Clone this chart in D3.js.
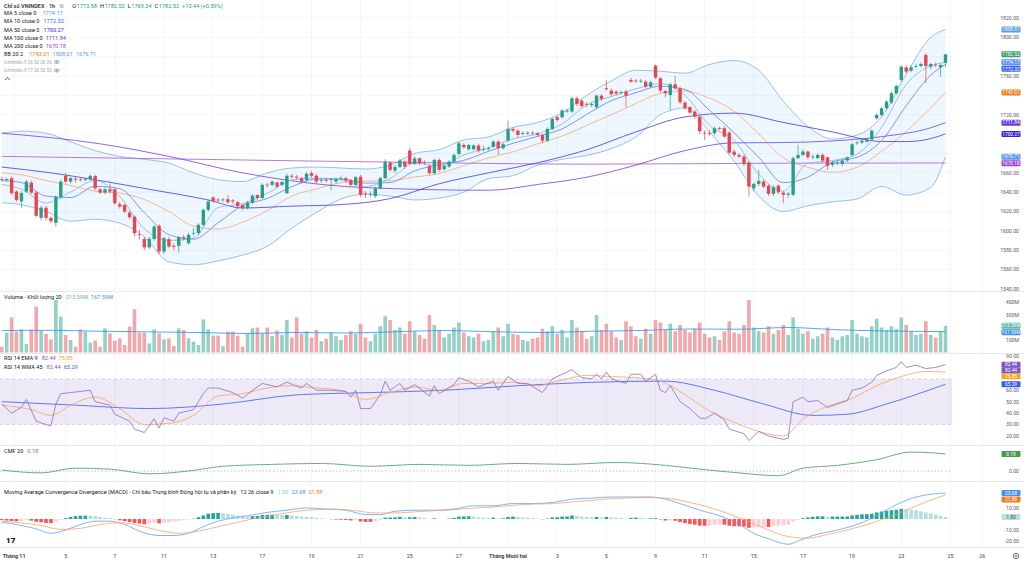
<!DOCTYPE html>
<html>
<head>
<meta charset="utf-8">
<script src="https://cdn.jsdelivr.net/npm/d3@7"></script>
<style>
body { margin: 0; background: #fff; }
svg { display: block; font-family: Roboto, "Liberation Sans", sans-serif; }
</style>
</head>
<body>
<div id="chart"></div>
<script>
// ---- data ----
// hourly candles [open, high, low, close]
const ohlc = [
[1653.5,1656,1651,1653],[1653,1655,1651,1653.5],[1654.5,1657,1637,1639],[1640.7,1642,1630,1632],[1630.5,1641,1624,1639],
[1640.7,1653,1639,1651],[1650,1652,1638,1639.6],[1639.6,1641,1614,1615.6],[1613.5,1626,1611,1624],[1624,1626,1611,1613.5],
[1613.5,1615,1608,1610],[1608.4,1637,1604.5,1635.1],[1635.1,1653,1633,1651],[1656.9,1660,1649,1651],[1651,1656,1649,1654.5],
[1654,1656,1650,1653],[1653.2,1655,1651,1653],[1653,1655,1651,1653.5],[1653.4,1658.5,1652,1656.9],[1656.9,1658,1642,1644],
[1643,1645,1638,1639.6],[1639.6,1645,1638,1643],[1643,1649,1639,1640.7],[1643,1644,1627,1628.5],[1627.6,1630,1623,1625.2],
[1626.9,1628,1618,1620],[1619,1621,1612,1614.2],[1614.8,1616,1594.2,1597.6],[1596.5,1601,1591,1596],[1591.8,1594,1580,1583],
[1583,1594,1581,1591.8],[1591.8,1606,1590,1604.5],[1605.3,1607,1576,1578.7],[1578.7,1594,1576,1592.5],[1591.5,1594,1582,1583.9],
[1584.5,1587,1580,1583.5],[1584.6,1595,1577.4,1593.6],[1593.6,1596,1590,1592.5],[1587.3,1598,1586,1596],[1597.2,1603,1595,1598],
[1597.7,1608,1596,1606.3],[1606.3,1623,1605,1621.8],[1621.8,1632,1620,1630.5],[1634.5,1636,1629,1631],[1632.3,1634,1630,1632],
[1632,1634,1630,1632.5],[1632.8,1637.3,1628,1629.7],[1631.5,1633,1628,1630.5],[1629.7,1631,1624,1625.5],[1627,1628,1621,1623.5],
[1623.5,1631,1622,1629.3],[1629.3,1638,1628,1636.5],[1637,1638,1632,1634],[1634,1649,1633,1647.6],[1647.8,1650,1645,1647.5],
[1647.6,1652,1646,1651],[1650,1651,1644,1645.8],[1647.6,1652,1646,1650.5],[1639,1659,1638,1657],[1657,1659,1654,1656],
[1656,1658,1653,1655],[1654.5,1656,1649,1651],[1652.7,1661,1651,1659],[1659.7,1662,1655,1657],[1657,1659,1649,1651],
[1652.2,1654,1650,1652.7],[1652.7,1655,1650,1652.4],[1653,1655,1642,1653.5],[1651,1655,1649,1653.4],[1654.2,1657,1652,1654.5],
[1654.5,1656,1650,1652],[1652.7,1654,1646,1647.6],[1647.6,1657,1646,1655.5],[1656,1658,1635,1637.3],[1638.6,1641,1634,1638.3],
[1638,1641,1635,1638.4],[1636,1646,1634,1644],[1644,1656,1643,1654.5],[1654.5,1674,1653,1671.6],[1670.6,1672,1661,1663],
[1662.4,1668,1660,1666],[1666,1675,1665,1672.7],[1671.6,1673,1664,1666.5],[1683,1686,1668,1669.3],[1669.3,1677,1668,1675],
[1675,1676,1668,1670],[1670.8,1673,1668,1670.4],[1667,1669,1658,1659.7],[1659.7,1675,1658,1673.4],[1673.4,1675,1661,1663],
[1663.8,1669,1662,1667.2],[1666.5,1673,1665,1671.6],[1671.6,1680,1670,1678.5],[1679.6,1692,1678,1690.6],[1688.9,1691,1685,1686.5],
[1684.4,1690,1683,1688.9],[1684.4,1690,1683,1688.2],[1688.2,1690,1681,1683],[1684,1688,1682,1684.5],[1685,1687,1683,1685.3],
[1687,1694,1686,1692.3],[1692.3,1694,1678.6,1685.5],[1685.5,1691,1684,1689.6],[1693.3,1714,1692,1705.4],[1705.4,1707,1702,1703.6],
[1703.6,1705,1697,1699.2],[1700.6,1703,1699,1701],[1701.2,1703,1699,1701.5],[1701.5,1703,1699,1701],[1701,1702,1697,1699.2],
[1699.2,1700,1690.6,1693.3],[1693.3,1707,1692,1705.4],[1705.4,1717,1704,1715.7],[1717.5,1719,1713,1714.7],[1717.5,1726,1716,1724.3],
[1723.3,1726,1722,1724.3],[1723.3,1739,1722,1737.1],[1737.1,1739,1729,1731.2],[1734.6,1736,1727,1729.1],[1731.2,1733,1728,1730.5],
[1730,1733,1728,1731],[1727.8,1741,1726,1739.8],[1739.8,1741,1734,1736.4],[1747.4,1756,1745,1746.4],[1745,1747,1739,1741.2],
[1744,1745,1740,1742],[1743,1745,1741,1743.3],[1744,1746,1727.8,1739.8],[1756,1758,1753,1754.2],[1755.3,1757,1753,1755],
[1755,1757,1753,1755.2],[1754.2,1756,1747,1749],[1749,1755,1748,1753.6],[1770.8,1772,1757,1758.4],[1757.7,1759,1743,1745],
[1744.6,1746,1738,1742.3],[1740.5,1753,1725,1751.5],[1751.5,1760,1746,1747.4],[1747.4,1749,1731,1733],[1732.6,1734,1725,1726.8],
[1728,1729,1721,1722.2],[1723.3,1725,1716,1718],[1718,1720,1700,1703],[1701.5,1704,1694,1701],[1701.2,1704,1698,1700.8],
[1701,1708,1699,1706.1],[1706.3,1708,1704,1706],[1706.1,1708,1696,1697.5],[1701.6,1703,1679,1680.9],[1682,1684,1676,1678.5],
[1678.5,1680,1675,1676.8],[1676.8,1679,1667,1669.3],[1670.6,1672,1635.5,1645.8],[1644,1650,1641,1648.6],[1648.6,1663,1646,1651.7],
[1651,1653,1644,1645.8],[1646.8,1648,1636,1638.3],[1638.3,1647,1636,1645.2],[1646.8,1648,1638,1640],[1639.6,1641,1628.7,1637.3],
[1637.3,1640,1634,1638.5],[1637.3,1677,1636,1675.2],[1675.2,1689,1674,1678.5],[1678.5,1684,1677,1682],[1682,1683,1674,1676.2],
[1676.6,1679,1674,1676.8],[1675.2,1680,1674,1678.5],[1678.5,1680,1671,1672.7],[1676,1677,1663,1667.2],[1668.2,1672,1666,1670.6],
[1670.4,1673,1668,1670.6],[1669.3,1674,1667,1672.7],[1672.7,1677,1671,1675.8],[1678.5,1691,1677,1689.6],[1691,1693,1689,1691.3],
[1691.3,1695,1690,1693.3],[1692.3,1696,1691,1694.7],[1694.7,1705,1693,1703.6],[1716.4,1722,1715,1719.8],[1719.8,1728,1718,1726.7],
[1726.7,1735,1725,1733.6],[1732.6,1744,1731,1742.3],[1742.3,1751,1741,1749.8],[1756,1771,1754,1769.7],[1769,1771,1763,1764.6],
[1765.6,1771,1764,1769],[1770.2,1773,1768,1770.4],[1770.4,1774,1769,1772.5],[1781.8,1784,1752.6,1770.4],[1769.7,1774,1767,1772.5],
[1771.8,1774,1769,1771.5],[1769,1773,1759.4,1771.5],[1773.6,1782.52,1769.3,1782.52]
];

// volume per candle, millions
const volume = [
46,158,281,167,185,68,185,367,175,148,105,420,287,140,100,46,185,167,79,95,
46,193,153,95,113,60,207,346,158,158,73,185,153,105,113,51,193,180,113,87,
60,265,185,135,135,51,167,167,135,46,153,193,200,150,200,130,175,140,260,120,
280,150,170,120,180,90,110,160,130,100,140,170,150,230,120,90,150,210,290,260,
180,200,150,250,170,140,110,300,220,180,120,150,200,240,160,130,120,150,90,100,
170,200,130,230,150,140,100,90,110,120,190,170,210,150,180,120,260,200,170,110,
130,300,180,230,170,120,100,250,210,130,110,190,150,260,240,180,230,170,220,180,
160,190,240,150,120,130,100,170,250,160,150,220,420,200,170,160,210,150,180,220,
140,280,190,150,170,110,130,150,200,120,100,130,140,260,150,130,120,210,270,200,
180,210,190,280,220,170,140,150,250,140,120,170,213.59
];
const volMa = [[0,175],[10,178],[20,170],[30,165],[40,160],[50,152],[60,160],[70,156],[80,166],[90,176],
[100,166],[110,160],[120,170],[130,176],[140,188],[150,186],[160,200],[170,182],[180,172],[192,167.59]];

// moving averages as [bar, value]
const ma5 = [[0,1648],[4,1643.2],[9,1628.8],[14,1640.2],[19,1652],[24,1635.4],[29,1602.2],[34,1590.2],[39,1592.6],[44,1624.2],
[49,1628.2],[54,1638.8],[59,1652.6],[64,1654.6],[69,1652.8],[74,1646],[79,1654],[84,1670],[89,1667.2],[94,1678.6],
[99,1685.8],[104,1695.2],[109,1700.2],[114,1710.6],[119,1730.2],[124,1738.8],[129,1746.8],[134,1752.2],[139,1740],[144,1709],
[149,1693.6],[154,1658.6],[159,1641.2],[164,1669.8],[169,1672.8],[174,1679.4],[179,1707.2],[184,1751.4],[189,1770.6],[192,1774.17]];
const ma10 = [[0,1652],[4,1650],[9,1636],[14,1634.5],[19,1646.1],[24,1643.7],[29,1618.8],[34,1596.2],[39,1591.4],[44,1608.4],
[49,1626.2],[54,1633.5],[59,1645.7],[64,1653.6],[69,1653.7],[74,1649.4],[79,1650],[84,1662],[89,1668.6],[94,1672.9],
[99,1682.2],[104,1690.5],[109,1697.7],[114,1705.4],[119,1720.4],[124,1734.5],[129,1742.8],[134,1749.5],[139,1746.1],[144,1724.5],
[149,1701.3],[154,1676.1],[159,1649.9],[164,1655.5],[169,1671.3],[174,1676.1],[179,1693.3],[184,1729.3],[189,1761],[192,1772.32]];
const ma50 = [[0,1666],[10,1660],[20,1652],[30,1643],[42,1632],[49,1623.7],[59,1625.6],[69,1627.2],[79,1633.4],[89,1648.8],
[99,1660],[109,1670.4],[119,1683.8],[129,1702.3],[139,1717.8],[149,1721.7],[159,1712.1],[169,1702.3],[179,1692.4],[184,1692.3],
[189,1695.4],[192,1700.27]];
const ma100 = [[0,1701],[20,1690],[34,1677],[49,1660],[73,1645],[99,1642],[109,1648],[119,1655.5],[129,1668],[139,1683],
[149,1691],[159,1691.3],[169,1693],[179,1697.4],[189,1706.6],[192,1711.84]];
const ma200 = [[0,1677],[40,1674],[80,1671],[120,1669],[160,1670],[192,1670.18]];

// Bollinger 20 2: [bar, basis, upper, lower]
const bb = [[0,1660,1701,1629],[4,1658,1703,1627],[9,1652,1701,1620],[14,1647,1692,1610],[19,1641,1683,1612],
[24,1639,1677,1608],[29,1632.5,1674,1594],[34,1620,1670,1568],[39,1605,1660,1565],[44,1602,1653,1569],
[49,1609,1651,1575],[54,1621,1660,1584],[59,1636,1665,1603],[64,1643.5,1666,1619],[69,1649.7,1665,1633],
[74,1651.5,1664,1638],[79,1651.9,1668,1636],[84,1655.7,1680,1632],[89,1659.3,1684,1634],[94,1667.5,1694,1640],
[99,1675.4,1697,1654],[104,1681.7,1707,1657],[109,1690,1712,1668],[114,1698,1722,1674],[119,1709,1740,1678],
[124,1720,1755,1685],[129,1731.6,1766,1697],[134,1742,1765,1720],[139,1744.5,1763,1727],[144,1737,1772,1702],
[149,1723.7,1776,1672],[154,1700.3,1766,1636],[159,1675.6,1734,1620],[164,1665.8,1708,1626],[169,1660.6,1695,1630],
[174,1665.8,1699,1633],[179,1682.3,1718,1646],[184,1702.7,1762,1637],[189,1727.2,1800,1645],[192,1743.01,1808.01,1676.71]];

// RSI 14 and its averages
const rsi = [[0,48],[2,40],[4,45],[5,52],[7,33],[9,30],[10,29],[11,48],[12,57],[14,58],[18,60],[19,50],[22,47],[23,39],
[26,33],[27,26],[29,23],[31,35],[32,27],[33,36],[35,33],[36,40],[39,43],[41,57],[42,62],[44,62],[47,58],[49,53],[51,60],
[53,66],[56,63],[58,67],[61,62],[62,66],[64,60],[67,60],[70,59],[71,54],[72,60],[73,44],[75,44],[77,56],[78,68],[79,60],
[81,66],[82,60],[84,65],[87,55],[88,64],[89,57],[92,65],[93,71],[95,68],[97,63],[100,68],[101,60],[103,72],[105,66],
[107,66],[110,58],[112,70],[114,74],[116,78],[118,71],[120,70],[121,74],[122,70],[123,76],[124,70],[127,66],[128,74],
[130,74],[131,68],[133,74],[134,60],[135,58],[136,64],[138,50],[140,44],[142,36],[143,35],[145,40],[147,34],[148,26],
[151,22],[152,16],[154,24],[156,20],[159,17],[160,18],[161,50],[163,54],[164,50],[166,51],[168,45],[170,48],[172,51],
[173,60],[175,62],[177,67],[178,73],[180,77],[182,80],[183,85],[184,80],[186,82],[188,79],[190,80],[192,82.44]];
const rsiEma = [[0,47],[6,43],[10,38],[14,47],[19,54],[24,44],[29,30],[34,31],[39,38],[44,55],[49,57],[54,62],[59,64],
[64,62],[69,60],[74,52],[79,58],[84,63],[89,60],[94,66],[99,66],[104,67],[109,64],[114,69],[119,73],[124,72],[129,71],
[134,68],[139,56],[144,42],[149,32],[154,24],[159,20],[163,35],[168,46],[173,53],[178,64],[183,72],[188,76.5],[192,75.85]];
const rsiWma = [[0,50],[15,47],[30,44],[45,48],[60,56],[75,58],[90,60],[105,64],[120,67],[135,68],[145,60],[155,48],
[165,38],[172,39],[180,48],[192,65.29]];

const cmf = [[0,0.01],[8,-0.02],[15,0.03],[22,0.02],[30,-0.03],[38,0.0],[45,0.05],[55,0.07],[65,0.08],[75,0.05],[85,0.07],
[95,0.06],[105,0.08],[115,0.07],[125,0.09],[135,0.06],[142,0.02],[150,-0.02],[158,-0.05],[163,0.03],[170,0.06],[178,0.12],
[185,0.2],[190,0.19],[192,0.18]];

// MACD 12 26 9
const macdLine = [[0,-3],[3,-5],[7,-9],[10,-13],[13,-10],[16,-5],[19,-2],[22,-2],[25,-5],[28,-11],[32,-15],[35,-15],[38,-13],
[41,-7],[44,-2],[47,1],[50,3],[54,6],[58,8],[62,10],[66,9],[70,8],[74,4],[77,4],[80,7],[84,8],[88,8],[92,9],[96,12],[100,12],
[104,14],[108,14],[112,15],[116,18],[120,19],[124,20],[128,20],[132,20],[134,19],[138,14],[142,8],[146,3],[150,-5],[153,-13],
[156,-18],[160,-23],[162,-20],[165,-15],[170,-10],[174,-5],[178,3],[182,13],[186,20],[189,22.5],[192,23.68]];
const signalLine = [[0,-2],[4,-3.5],[8,-6],[12,-9.5],[16,-8.5],[20,-5],[24,-3.5],[28,-6],[32,-10.5],[36,-13],[40,-11],[44,-7],
[48,-3],[52,1],[56,4],[60,7],[64,8.5],[68,9],[72,7.5],[76,5.5],[80,5.5],[84,6.5],[88,7.5],[92,8.5],[96,10],[100,11],[104,12.5],
[108,13.5],[112,14],[116,15.5],[120,17],[124,18.5],[128,19.2],[132,19.5],[136,18.5],[140,15],[144,10.5],[148,4.5],[152,-2.5],
[156,-10],[160,-16],[164,-17.5],[168,-14],[172,-10],[176,-5],[180,1],[184,8],[188,15.5],[192,21.88]];
const macdHist = [
-1.0,-1.4,-1.8,-2.0,-1.8,-1.2,-1.5,-2.6,-3.0,-3.6,-3.8,-2.5,-0.8,0.8,1.8,2.6,3.0,3.1,3.0,2.6,
1.8,1.2,0.8,-0.2,-1.2,-2.0,-2.8,-3.8,-4.2,-4.8,-4.2,-3.5,-4.0,-3.2,-2.8,-2.2,-1.6,-1.0,-0.4,0.3,
1.6,3.2,4.8,5.4,5.6,5.2,4.6,4.0,3.2,2.6,2.4,2.6,2.8,3.6,3.8,4.0,3.6,3.4,3.6,3.2,
2.8,2.2,2.0,1.6,1.0,0.6,0.2,-0.2,-0.5,-0.7,-0.9,-1.3,-1.0,-2.2,-2.6,-2.6,-2.0,-0.8,1.2,1.4,
1.5,2.0,1.6,1.6,1.8,1.4,1.0,0.2,0.6,0.1,0.0,0.4,1.0,2.2,2.4,2.5,2.2,1.6,1.2,0.9,
1.2,0.6,0.6,1.8,2.2,1.8,1.5,1.2,0.8,0.4,-0.3,0.4,1.4,1.6,2.2,2.3,3.2,2.8,2.2,1.8,
1.4,1.8,1.4,1.8,1.4,1.1,0.8,0.3,1.0,1.2,1.1,0.6,0.6,0.8,-0.4,-1.4,-1.2,-1.6,-2.8,-3.8,
-4.6,-5.2,-6.0,-6.2,-6.0,-5.4,-5.0,-5.2,-6.2,-6.6,-6.6,-6.8,-8.0,-7.8,-7.4,-7.2,-7.2,-6.6,-6.2,-5.8,
-5.2,-2.4,-0.6,0.8,1.4,2.0,2.4,2.4,2.2,2.2,2.2,2.2,2.3,3.2,3.8,4.2,4.4,4.8,6.0,6.8,
7.4,8.0,8.4,9.2,8.8,8.4,7.8,7.0,6.0,5.0,4.0,2.8,1.8
];

// axes
const dayTicks = [2.5,13,23,33,43,53,63,73,83,93,103,113,123,133,143,153,163,173,183,193,199.5];
const dayLabels = ["Tháng 11","5","7","11","13","17","19","21","25","27","Tháng Mười hai","3","5","9","11","15","17","19","23","25","26"];
const priceTicks = [1540,1560,1580,1600,1620,1640,1660,1680,1700,1720,1740,1760,1780,1800,1820];
const volTicks = [100,200,300,400];
const rsiTicks = [20,30,40,50,60,70,80,90];
const macdTicks = [-20,-10,0,10,20];

// ---- drawing ----
const W = 1024, H = 563, plotR = 952;
const svg = d3.select("#chart").append("svg").attr("width", W).attr("height", H);

const x = d3.scaleLinear().domain([0, 192]).range([1.8, 945.5]);
const yP = d3.scaleLinear().domain([1540, 1820]).range([289, 18]);
const yV = d3.scaleLinear().domain([0, 500]).range([352.5, 290]);
const yR = d3.scaleLinear().domain([20, 90]).range([436, 356]);
const yC = d3.scaleLinear().domain([0, 0.18]).range([471, 454]);
const yM = d3.scaleLinear().domain([-20, 10]).range([541, 508]);

const panes = [[0,291],[291,353],[353,445],[445,481],[481,547]];
const defs = svg.append("defs");
panes.forEach((p, k) => {
    defs.append("clipPath").attr("id", "clip" + k)
        .append("rect").attr("x", 0).attr("y", p[0]).attr("width", plotR).attr("height", p[1] - p[0]);
});

const grid = svg.append("g");
dayTicks.forEach(t => {
    grid.append("line").attr("x1", x(t)).attr("x2", x(t)).attr("y1", 0).attr("y2", 547)
        .attr("stroke", "#f2f4f9").attr("stroke-width", 0.8);
});
priceTicks.forEach(t => {
    grid.append("line").attr("x1", 0).attr("x2", plotR).attr("y1", yP(t)).attr("y2", yP(t))
        .attr("stroke", "#f2f4f9").attr("stroke-width", 0.8);
});

// pane separators
panes.slice(1).forEach(p => {
    svg.append("line").attr("x1", 0).attr("x2", W).attr("y1", p[0] + 0.5).attr("y2", p[0] + 0.5)
        .attr("stroke", "#e6e8ee").attr("stroke-width", 1);
});
svg.append("line").attr("x1", 0).attr("x2", W).attr("y1", 547.5).attr("y2", 547.5).attr("stroke", "#e6e8ee");

function lineOf(yScale, curve) {
    return d3.line().x(d => x(d[0])).y(d => yScale(d[1])).curve(curve || d3.curveMonotoneX);
}

// ---- price pane ----
const gP = svg.append("g").attr("clip-path", "url(#clip0)");
gP.append("path").datum(bb)
    .attr("d", d3.area().x(d => x(d[0])).y0(d => yP(d[3])).y1(d => yP(d[2])).curve(d3.curveMonotoneX))
    .attr("fill", "rgba(33,150,243,0.08)");
gP.append("path").datum(bb.map(d => [d[0], d[2]])).attr("d", lineOf(yP))
    .attr("fill", "none").attr("stroke", "#7fb0e8").attr("stroke-width", 0.8);
gP.append("path").datum(bb.map(d => [d[0], d[3]])).attr("d", lineOf(yP))
    .attr("fill", "none").attr("stroke", "#7fb0e8").attr("stroke-width", 0.8);
gP.append("path").datum(bb.map(d => [d[0], d[1]])).attr("d", lineOf(yP))
    .attr("fill", "none").attr("stroke", "#f2a878").attr("stroke-width", 0.8);

const maLines = [
    [ma200, "#a35bd6"], [ma100, "#7040d8"], [ma50, "#4a35d8"], [ma10, "#5d7ff0"], [ma5, "#7cb4f0"]
];
maLines.forEach(m => {
    gP.append("path").datum(m[0]).attr("d", lineOf(yP))
        .attr("fill", "none").attr("stroke", m[1]).attr("stroke-width", 0.8);
});

const UP = "#2a9d87", DOWN = "#e8464f";
const candles = gP.selectAll(".candle").data(ohlc).join("g").attr("class", "candle");
candles.append("line")
    .attr("x1", (d, i) => x(i)).attr("x2", (d, i) => x(i))
    .attr("y1", d => yP(d[1])).attr("y2", d => yP(d[2]))
    .attr("stroke", d => d[3] >= d[0] ? UP : DOWN).attr("stroke-width", 0.7);
candles.append("rect")
    .attr("x", (d, i) => x(i) - 1.7).attr("width", 3.4)
    .attr("y", d => yP(Math.max(d[0], d[3])))
    .attr("height", d => Math.max(0.8, Math.abs(yP(d[0]) - yP(d[3]))))
    .attr("fill", d => d[3] >= d[0] ? UP : DOWN);

// ---- volume pane ----
const gV = svg.append("g").attr("clip-path", "url(#clip1)");
gV.selectAll("rect").data(volume).join("rect")
    .attr("x", (d, i) => x(i) - 1.8).attr("width", 3.6)
    .attr("y", d => yV(d)).attr("height", d => yV(0) - yV(d))
    .attr("fill", (d, i) => ohlc[i][3] >= ohlc[i][0] ? "#93d1c6" : "#f4a7ab");
gV.append("path").datum(volMa).attr("d", lineOf(yV))
    .attr("fill", "none").attr("stroke", "#2196f3").attr("stroke-width", 0.8);

// ---- RSI pane ----
const gR = svg.append("g").attr("clip-path", "url(#clip2)");
gR.append("rect").attr("x", 0).attr("width", plotR)
    .attr("y", yR(70)).attr("height", yR(30) - yR(70)).attr("fill", "rgba(126,87,194,0.13)");
[70, 30].forEach(v => {
    gR.append("line").attr("x1", 0).attr("x2", plotR).attr("y1", yR(v)).attr("y2", yR(v))
        .attr("stroke", "#b9b3cc").attr("stroke-width", 0.5).attr("stroke-dasharray", "3,3");
});
gR.append("path").datum(rsiWma).attr("d", lineOf(yR)).attr("fill", "none").attr("stroke", "#3d5af1").attr("stroke-width", 0.8);
gR.append("path").datum(rsiEma).attr("d", lineOf(yR)).attr("fill", "none").attr("stroke", "#f5a35c").attr("stroke-width", 0.8);
gR.append("path").datum(rsi).attr("d", lineOf(yR, d3.curveLinear)).attr("fill", "none").attr("stroke", "#8a6cc9").attr("stroke-width", 0.8);

// ---- CMF pane ----
const gC = svg.append("g").attr("clip-path", "url(#clip3)");
gC.append("line").attr("x1", 0).attr("x2", plotR).attr("y1", yC(0)).attr("y2", yC(0))
    .attr("stroke", "#9598a1").attr("stroke-width", 0.6).attr("stroke-dasharray", "1.5,2");
gC.append("path").datum(cmf).attr("d", lineOf(yC)).attr("fill", "none").attr("stroke", "#4a9a4e").attr("stroke-width", 0.8);

// ---- MACD pane ----
const gM = svg.append("g").attr("clip-path", "url(#clip4)");
gM.selectAll("rect").data(macdHist).join("rect")
    .attr("x", (d, i) => x(i) - 1.8).attr("width", 3.6)
    .attr("y", d => yM(Math.max(0, d))).attr("height", d => Math.abs(yM(d) - yM(0)))
    .attr("fill", (d, i) => {
        const prev = i > 0 ? macdHist[i - 1] : d;
        if (d >= 0) return d >= prev ? "#26a69a" : "#b2dfdb";
        return d <= prev ? "#ff5252" : "#ffcdd2";
    });
gM.append("path").datum(macdLine).attr("d", lineOf(yM)).attr("fill", "none").attr("stroke", "#64a0f2").attr("stroke-width", 0.8);
gM.append("path").datum(signalLine).attr("d", lineOf(yM)).attr("fill", "none").attr("stroke", "#f5a56a").attr("stroke-width", 0.8);

// ---- right scale: boxes first, then plain labels where there is room ----
const boxYs = [];
function boxes(list, minGap) {
    list.sort((a, b) => a.y - b.y);
    for (let k = 1; k < list.length; k++) {
        if (list[k].y - list[k - 1].y < minGap) list[k].y = list[k - 1].y + minGap;
    }
    list.forEach(b => {
        boxYs.push(b.y);
        svg.append("rect").attr("x", 1001.5).attr("y", b.y - 3).attr("width", 19).attr("height", 6).attr("rx", 1)
            .attr("fill", b.c);
        svg.append("text").attr("x", 1011).attr("y", b.y).attr("dy", "0.35em").attr("text-anchor", "middle")
            .attr("font-size", 4.8).attr("fill", b.t || "#fff").text(b.s);
    });
}
boxes([
    { y: yP(1808.01), s: "1808.01", c: "#5b9be8" },
    { y: yP(1782.52), s: "1782.52", c: "#3f9a78" },
    { y: yP(1774.17), s: "1774.17", c: "#5b8ff2" },
    { y: yP(1772.32), s: "1772.32", c: "#3563ee" },
    { y: yP(1743.01), s: "1743.01", c: "#f07d22" },
    { y: yP(1711.84), s: "1711.84", c: "#6a3ddb" },
    { y: yP(1700.27), s: "1700.27", c: "#3b22d8" },
    { y: yP(1676.71), s: "1676.71", c: "#5b9be8" },
    { y: yP(1670.18), s: "1670.18", c: "#9a46d4" }
], 6.5);
boxes([
    { y: yV(213.59), s: "213.59M", c: "#5fb9a4" },
    { y: yV(167.59), s: "167.59M", c: "#3d8fe8" }
], 6.5);
boxes([
    { y: yR(82.44), s: "82.44", c: "#7e57c2" },
    { y: yR(82.44), s: "82.44", c: "#7e57c2" },
    { y: yR(75.85), s: "75.85", c: "#f5a623" },
    { y: yR(65.29), s: "65.29", c: "#3d5af1" }
], 5.8);
boxes([{ y: yC(0.18), s: "0.18", c: "#4a9a4e" }], 6);
boxes([
    { y: yM(23.68), s: "23.68", c: "#4d8fef" },
    { y: yM(21.88), s: "21.88", c: "#f07d22" },
    { y: yM(1.80), s: "1.80", c: "#b7e1da", t: "#1f5e55" }
], 6.5);

const axisG = svg.append("g").attr("font-size", 5.2).attr("fill", "#555a66").attr("text-anchor", "end");
function axisLabel(y, txt, top, bottom) {
    if (y < top + 2 || y > bottom - 1) return;
    if (boxYs.some(b => Math.abs(b - y) < 5.5)) return;
    axisG.append("text").attr("x", 1019).attr("y", y).attr("dy", "0.35em").text(txt);
}
priceTicks.forEach(t => axisLabel(yP(t), t.toFixed(2), 0, 291));
volTicks.forEach(t => axisLabel(yV(t), t + "M", 291, 353));
rsiTicks.forEach(t => axisLabel(yR(t), t.toFixed(2), 353, 445));
axisLabel(yC(0), "0.00", 445, 481);
macdTicks.forEach(t => axisLabel(yM(t), t.toFixed(2), 481, 547));

// ---- time axis ----
const tg = svg.append("g").attr("font-size", 5.4).attr("fill", "#3a3e4a").attr("text-anchor", "middle");
dayTicks.forEach((t, k) => {
    tg.append("text").attr("x", x(t)).attr("y", 556).attr("dy", "0.35em")
        .attr("font-weight", dayLabels[k].startsWith("Tháng") ? 700 : 400)
        .text(dayLabels[k]);
});
// settings gear
svg.append("circle").attr("cx", 1016).attr("cy", 556).attr("r", 2.8).attr("fill", "none").attr("stroke", "#3a3e4a").attr("stroke-width", 0.7);
svg.append("circle").attr("cx", 1016).attr("cy", 556).attr("r", 1).attr("fill", "none").attr("stroke", "#3a3e4a").attr("stroke-width", 0.6);
// logo
svg.append("text").attr("x", 6).attr("y", 540).attr("dy", "0.35em").attr("font-size", 8).attr("font-weight", 900)
    .attr("fill", "#131722").text("17");

// ---- legends ----
const lg = svg.append("g").attr("font-size", 5.6).attr("fill", "#131722");
function legendRow(y, parts, size) {
    const t = lg.append("text").attr("x", 4).attr("y", y).attr("dy", "0.35em");
    if (size) t.attr("font-size", size);
    parts.forEach((p, k) => {
        t.append("tspan").attr("dx", k === 0 ? 0 : (p[2] || 3)).attr("fill", p[1] || "#131722")
            .attr("font-weight", p[3] || 400).text(p[0]);
    });
    return t;
}
legendRow(6, [["Chỉ số VNINDEX · 1h", "#131722", 0, 500], ["≋", "#787b86", 4],
    ["O", "#131722", 8], ["1773.58", "#22a187", 0.5], ["H", "#131722"], ["1782.52", "#22a187", 0.5],
    ["L", "#131722"], ["1769.34", "#22a187", 0.5], ["C", "#131722"], ["1782.52", "#22a187", 0.5],
    ["+10.44 (+0.59%)", "#22a187"]]);
legendRow(13.5, [["MA 5 close 0"], ["1774.17", "#5b8ff2", 6]]);
legendRow(21.5, [["MA 10 close 0"], ["1772.32", "#3563ee", 4]]);
legendRow(29.7, [["MA 50 close 0"], ["1700.27", "#3b22d8", 4]]);
legendRow(37.7, [["MA 100 close 0"], ["1711.84", "#6a3ddb", 3]]);
legendRow(46, [["MA 200 close 0"], ["1670.18", "#9a46d4", 3]]);
legendRow(54, [["BB 20 2"], ["1743.01", "#f07d22", 6], ["1808.01", "#5b9be8"], ["1676.71", "#5b9be8"]]);
[62, 70.5].forEach((y, k) => {
    const t = legendRow(y, [[k === 0 ? "Ichimoku 9 26 52 26 26" : "Ichimoku 9 17 26 26 50", "#a3a6af"]], 4.6);
    const ex = 4 + t.node().getComputedTextLength() + 5;
    svg.append("ellipse").attr("cx", ex).attr("cy", y).attr("rx", 2.4).attr("ry", 1.5)
        .attr("fill", "none").attr("stroke", "#6a6d78").attr("stroke-width", 0.6);
    svg.append("circle").attr("cx", ex).attr("cy", y).attr("r", 0.7).attr("fill", "#6a6d78");
});
svg.append("path").attr("d", "M5,80 L7.5,77.5 L10,80").attr("fill", "none").attr("stroke", "#131722").attr("stroke-width", 0.7);

legendRow(297, [["Volume - Khối lượng 20"], ["213.59M", "#5fb9a4", 4], ["167.59M", "#3d8fe8"]]);
legendRow(358.5, [["RSI 14 EMA 9"], ["82.44", "#7e57c2", 4], ["75.85", "#f5a623"]]);
legendRow(367, [["RSI 14 WMA 45"], ["82.44", "#7e57c2", 4], ["65.29", "#3d5af1"]]);
legendRow(451, [["CMF 20"], ["0.18", "#4a9a4e", 4]]);
legendRow(492, [["Moving Average Convergence Divergence (MACD) - Chỉ báo Trung bình Động hội tụ và phân kỳ"],
    ["12 26 close 9", "#131722", 4], ["1.80", "#8fcfc4", 4], ["23.68", "#4d8fef"], ["21.88", "#f07d22"]]);
</script>
</body>
</html>
